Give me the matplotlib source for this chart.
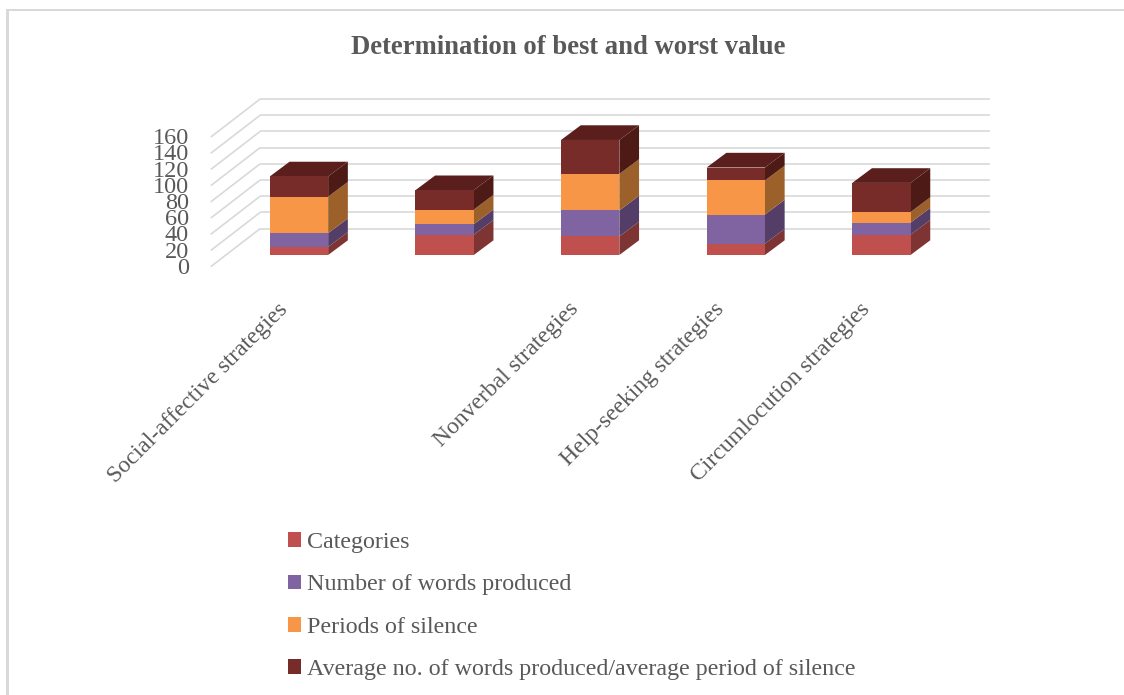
import matplotlib
matplotlib.use("Agg")
import matplotlib.pyplot as plt
from matplotlib.patches import Patch, Rectangle

categories = ["Social-affective strategies", "", "Nonverbal strategies",
              "Help-seeking strategies", "Circumlocution strategies"]
series_names = ["Categories", "Number of words produced", "Periods of silence",
                "Average no. of words produced/average period of silence"]
categories_vals = [10, 25, 23, 14, 25]
words_vals = [17, 13, 32, 36, 15]
silence_vals = [45, 18, 45, 42, 13]
average_vals = [25, 24, 42, 16, 36]
y_ticks = [0, 20, 40, 60, 80, 100, 120, 140, 160]

front_colors = ["#C0504D", "#8064A2", "#F79646", "#772C2A"]
side_colors = ["#7E3432", "#543E68", "#9C602B", "#4E1A16"]
top_color = "#5A1F1D"
grid_color = "#D9D9D9"
text_color = "#595959"

W, H = 1124, 695
X0, STEP = 299, 145.6    # pixel of first bar centre, pixels per category
Y0, UNIT = 255, 0.81     # pixel of bar base, pixels per value

plt.rcParams["font.family"] = ["Liberation Serif", "DejaVu Serif"]
fig = plt.figure(figsize=(W / 100, H / 100), dpi=100)
ax = fig.add_axes([0, 0, 1, 1])
ax.set_xlim(-X0 / STEP, (W - X0) / STEP)
ax.set_ylim(-(H - Y0) / UNIT, Y0 / UNIT)
ax.axis("off")

# chart frame
fig.add_artist(Rectangle((6 / W, 0), 2.5 / W, 1 - 9 / H, fc=grid_color, lw=0))
fig.add_artist(Rectangle((6 / W, 1 - 10.8 / H), (W - 6) / W, 1.8 / H, fc=grid_color, lw=0))

# walls of the 3D box
wall_x = -0.606
wall_y = -14.4
wall_dx = 49.3 / STEP
wall_dy = 38 / UNIT
wall_right = 4.746
for v in y_ticks:
    ax.plot([wall_x, wall_x + wall_dx], [wall_y + v, wall_y + v + wall_dy],
            color=grid_color, lw=1.2, zorder=1, solid_capstyle="butt")
    ax.plot([wall_x + wall_dx, wall_right], [wall_y + v + wall_dy] * 2,
            color=grid_color, lw=1.2, zorder=1, solid_capstyle="butt")
    ax.text(-0.755, wall_y + v - 2, str(v), ha="right", va="center",
            fontsize=17.5, color=text_color)

# stacked bars
bar_w = 58.3 / STEP
depth_x = 19.7 / STEP
depth_y = 14.7 / UNIT
xs = list(range(len(categories)))
bottoms = [0] * len(xs)
all_series = [categories_vals, words_vals, silence_vals, average_vals]
for vals, front, side in zip(all_series, front_colors, side_colors):
    ax.bar(xs, vals, bar_w, bottom=bottoms, color=front, lw=0, zorder=3)
    for x, b, v in zip(xs, bottoms, vals):
        r = x + bar_w / 2
        ax.fill([r, r + depth_x, r + depth_x, r],
                [b, b + depth_y, b + v + depth_y, b + v],
                color=side, lw=0, zorder=2)
    bottoms = [b + v for b, v in zip(bottoms, vals)]
for x, t in zip(xs, bottoms):
    l, r = x - bar_w / 2, x + bar_w / 2
    ax.fill([l, r, r + depth_x, l + depth_x], [t, t, t + depth_y, t + depth_y],
            color=top_color, lw=0, zorder=2)

# category labels
for x, name in zip(xs, categories):
    ax.text(x - 0.1, -63, name, rotation=45, rotation_mode="anchor",
            ha="right", va="center", fontsize=17, color=text_color)

ax.text((568 - X0) / STEP, (Y0 - 47.5) / UNIT, "Determination of best and worst value",
        ha="center", va="center", fontsize=19.2, fontweight="bold", color=text_color)

handles = [Patch(color=c, lw=0) for c in front_colors]
ax.legend(handles, series_names, loc="upper left", bbox_to_anchor=(288 / W, 1 - 532 / H),
          frameon=False, fontsize=17.3, labelcolor=text_color, handlelength=0.55,
          handleheight=0.55, handletextpad=0.25, labelspacing=0.89, borderpad=0, borderaxespad=0)

fig.savefig("out.png", dpi=100)
